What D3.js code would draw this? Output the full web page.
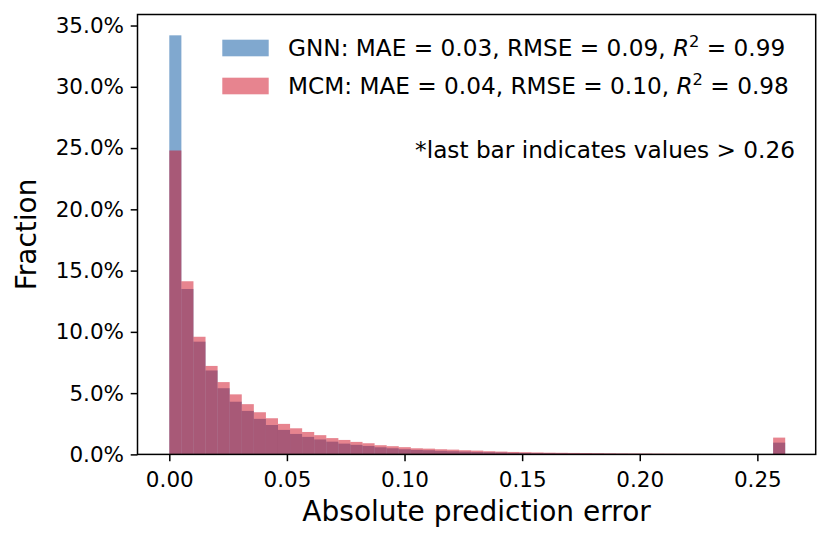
<!DOCTYPE html>
<html><head><meta charset="utf-8">
<script src="https://cdn.jsdelivr.net/npm/d3@7"></script>
<style>body{margin:0;background:#fff}</style></head>
<body><svg id="c" width="831" height="543"></svg>
<script>
// Histogram values (percent of samples per bin); last bin collects values > 0.26
const gnnValues = [34.2, 13.5, 9.2, 6.85, 5.4, 4.3, 3.55, 2.9, 2.4, 2.0,
  1.67, 1.43, 1.22, 1.04, 0.88, 0.78, 0.69, 0.58, 0.50, 0.42,
  0.37, 0.34, 0.29, 0.26, 0.23, 0.20, 0.18, 0.16, 0.13, 0.12,
  0.10, 0.09, 0.08, 0.07, 0.065, 0.06, 0.05, 0.045, 0.04, 0.035,
  0.03, 0.03, 0.025, 0.02, 0.02, 0.015, 0.015, 0.01, 0.01, 0.01,
  0.96];
const mcmValues = [24.8, 14.13, 9.6, 7.22, 5.9, 4.9, 4.1, 3.44, 2.95, 2.49,
  2.13, 1.83, 1.57, 1.33, 1.18, 1.02, 0.91, 0.75, 0.67, 0.59,
  0.50, 0.47, 0.42, 0.39, 0.34, 0.31, 0.26, 0.23, 0.20, 0.18,
  0.16, 0.14, 0.13, 0.12, 0.11, 0.10, 0.09, 0.08, 0.075, 0.07,
  0.06, 0.055, 0.05, 0.045, 0.04, 0.035, 0.03, 0.03, 0.025, 0.02,
  1.37];
const binWidth = 0.005134;
const xTicks = [0, 0.05, 0.10, 0.15, 0.20, 0.25];
const yTicks = [0, 5, 10, 15, 20, 25, 30, 35];
const legendNames = ["GNN", "MCM"];
const legendMAE = ["0.03", "0.04"];
const legendRMSE = ["0.09", "0.10"];
const legendR2 = ["0.99", "0.98"];
const noteText = "*last bar indicates values > 0.26";
const xLabel = "Absolute prediction error";
const yLabel = "Fraction";

const colors = ["#01519f", "#cf091f"];
const alpha = 0.5;
const font = "DejaVu Sans, sans-serif";

const L = 137.5, R = 815.7, T = 14.5, B = 454.4;
const svg = d3.select("#c");
const x = d3.scaleLinear().domain([-0.01352, 0.2748]).range([L, R]);
const y = d3.scaleLinear().domain([0, 35.9]).range([B, T]);

const series = [gnnValues, mcmValues];
series.forEach((vals, si) => {
  svg.append("g").selectAll("rect").data(vals).join("rect")
    .attr("x", (d, i) => x(i * binWidth))
    .attr("width", (d, i) => x((i + 1) * binWidth) - x(i * binWidth))
    .attr("y", d => y(d))
    .attr("height", d => y(0) - y(d))
    .attr("fill", colors[si])
    .attr("fill-opacity", alpha);
});

// axes
const xAxis = d3.axisBottom(x).tickValues(xTicks).tickFormat(d3.format(".2f"))
  .tickSize(6.8).tickPadding(11);
const gx = svg.append("g").attr("transform", `translate(0,${B})`).call(xAxis);
const yAxis = d3.axisLeft(y).tickValues(yTicks).tickFormat(d => d3.format(".1f")(d) + "%")
  .tickSize(6.8).tickPadding(6.7);
const gy = svg.append("g").attr("transform", `translate(${L},0)`).call(yAxis);
[gx, gy].forEach(g => {
  g.select(".domain").remove();
  g.selectAll(".tick line").attr("stroke", "#000").attr("stroke-width", 1.5);
  g.selectAll(".tick text").attr("fill", "#000").style("font-family", font).style("font-size", "21.5px");
});

// frame
svg.append("rect").attr("x", L).attr("y", T).attr("width", R - L).attr("height", B - T)
  .attr("fill", "none").attr("stroke", "#000").attr("stroke-width", 1.5);

// axis labels
svg.append("text").attr("x", (L + R) / 2).attr("y", 521).attr("text-anchor", "middle")
  .style("font-family", font).style("font-size", "28px").text(xLabel);
svg.append("text").attr("transform", `translate(36,${(T + B) / 2}) rotate(-90)`).attr("text-anchor", "middle")
  .style("font-family", font).style("font-size", "28px").text(yLabel);

// legend
const legendRowY = [48, 86];
legendNames.forEach((nm, i) => {
  svg.append("rect").attr("x", 222.3).attr("y", legendRowY[i] - 8.3).attr("width", 46.4).attr("height", 16.6)
    .attr("fill", colors[i]).attr("fill-opacity", alpha);
  const t = svg.append("text").attr("x", 288).attr("y", legendRowY[i] + 8.4)
    .style("font-family", font).style("font-size", "23.2px");
  t.append("tspan").text(`${nm}: MAE = ${legendMAE[i]}, RMSE = ${legendRMSE[i]}, `);
  t.append("tspan").attr("font-style", "italic").text("R");
  t.append("tspan").attr("dy", -9).style("font-size", "16.3px").text("2");
  t.append("tspan").attr("dy", 9).text(` = ${legendR2[i]}`);
});
svg.append("text").attr("x", 795).attr("y", 158.3).attr("text-anchor", "end")
  .style("font-family", font).style("font-size", "23.2px").text(noteText);
</script>
</body></html>
